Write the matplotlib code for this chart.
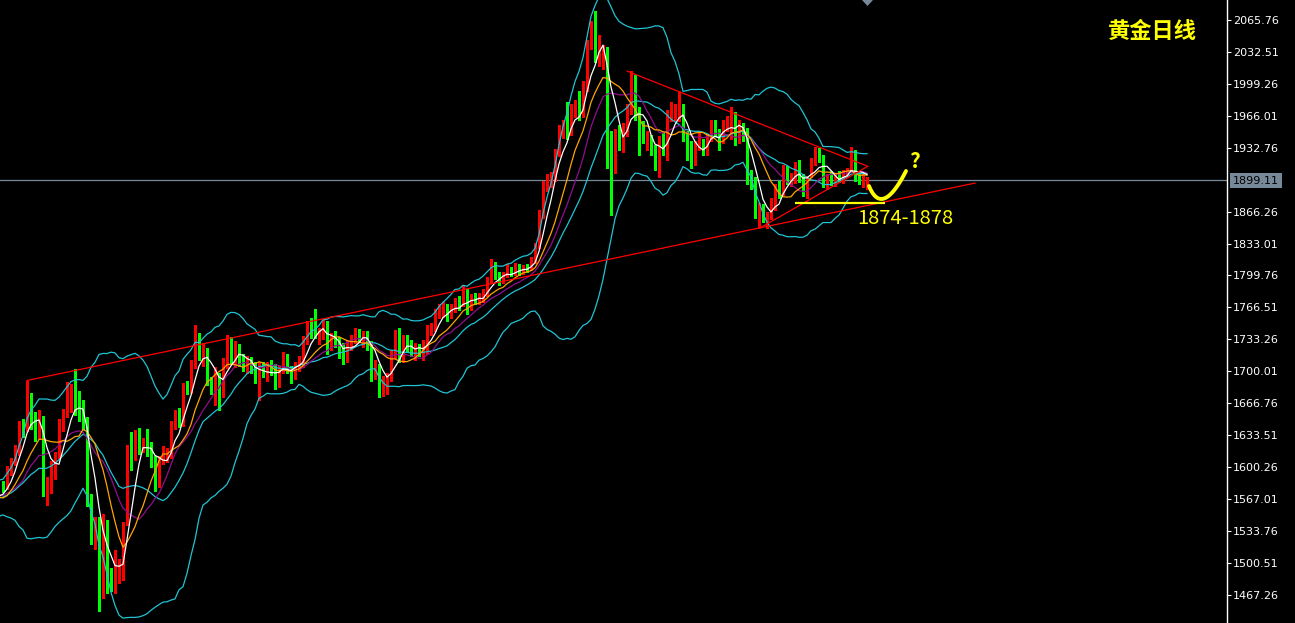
import matplotlib
matplotlib.use("Agg")
import matplotlib.pyplot as plt
from matplotlib.patches import Polygon
import numpy as np
import pandas as pd

# ---------------- data ----------------
opens = [1583,1580,1598,1607,1617,1644,1641,1673,1650,1636,
 1650,1582,1585,1593,1614,1642,1658,1663,1673,1664,
 1655,1650,1565,1533,1543,1504,1530,1490,1478,1488,
 1498,1542,1618,1612,1627,1622,1627,1620,1609,1591,
 1610,1613,1616,1646,1655,1645,1684,1682,1708,1734,
 1712,1720,1690,1676,1692,1677,1708,1729,1710,1722,
 1712,1705,1710,1705,1693,1703,1696,1707,1703,1689,
 1701,1714,1703,1696,1705,1708,1733,1752,1748,1736,
 1738,1748,1729,1736,1732,1720,1713,1726,1734,1739,
 1729,1739,1729,1700,1705,1680,1684,1693,1717,1737,
 1714,1733,1728,1719,1724,1720,1722,1743,1745,1760,
 1763,1767,1760,1765,1774,1771,1783,1768,1777,1774,
 1776,1781,1795,1810,1800,1795,1801,1805,1803,1809,
 1805,1809,1808,1816,1830,1864,1892,1899,1902,1928,
 1949,1958,1950,1972,1976,1968,1996,2043,2059,2027,
 2026,2034,1946,1941,1946,1942,1948,1973,2001,1968,
 1950,1937,1941,1930,1920,1941,1927,1967,1970,1968,
 1974,1944,1934,1920,1934,1937,1929,1946,1958,1949,
 1944,1953,1946,1967,1944,1953,1950,1903,1899,1862,
 1870,1859,1863,1872,1890,1886,1911,1899,1900,1914,
 1901,1887,1905,1920,1926,1922,1895,1902,1898,1903,
 1900,1906,1910,1925,1900,1898,1896]

highs = [1586,1602,1610,1623,1648,1650,1690,1678,1658,1660,
 1654,1590,1607,1616,1650,1661,1689,1687,1702,1680,
 1670,1653,1572,1548,1548,1552,1545,1495,1514,1505,
 1543,1623,1637,1639,1641,1631,1640,1626,1612,1612,
 1622,1620,1648,1660,1662,1688,1690,1712,1748,1740,
 1730,1724,1694,1705,1698,1714,1738,1736,1732,1728,
 1718,1716,1715,1710,1710,1710,1710,1712,1708,1706,
 1720,1718,1706,1710,1716,1737,1752,1756,1765,1745,
 1754,1752,1740,1742,1736,1730,1732,1738,1745,1744,
 1742,1742,1732,1712,1708,1695,1698,1722,1743,1745,
 1738,1738,1733,1730,1728,1733,1748,1750,1765,1770,
 1772,1770,1770,1776,1778,1790,1786,1780,1782,1782,
 1786,1798,1817,1814,1803,1803,1812,1809,1813,1812,
 1811,1812,1819,1834,1868,1898,1905,1907,1931,1956,
 1962,1980,1978,1982,1992,2002,2045,2064,2075,2050,
 2040,2037,1950,1952,1956,1958,1978,2012,2008,1975,
 1960,1950,1946,1935,1945,1948,1972,1980,1978,1992,
 1978,1950,1940,1940,1950,1942,1947,1962,1962,1952,
 1962,1966,1975,1970,1962,1958,1953,1910,1902,1875,
 1874,1866,1880,1895,1898,1915,1914,1906,1918,1920,
 1905,1903,1922,1933,1932,1925,1905,1908,1906,1908,
 1910,1912,1933,1930,1906,1905,1902]

lows = [1574,1578,1592,1603,1613,1632,1638,1640,1628,1630,
 1570,1561,1573,1588,1610,1638,1652,1658,1655,1648,
 1640,1560,1520,1515,1451,1464,1469,1472,1469,1480,
 1483,1540,1597,1608,1614,1616,1612,1600,1576,1580,
 1604,1606,1610,1640,1642,1643,1676,1678,1704,1712,
 1706,1686,1676,1665,1660,1673,1704,1708,1705,1706,
 1700,1698,1698,1688,1670,1694,1690,1696,1682,1684,
 1698,1698,1688,1692,1700,1705,1728,1735,1735,1728,
 1734,1718,1722,1725,1714,1708,1710,1722,1730,1732,
 1725,1722,1690,1692,1673,1674,1676,1690,1714,1710,
 1710,1720,1716,1712,1716,1712,1718,1738,1742,1755,
 1757,1752,1756,1762,1764,1768,1760,1764,1770,1770,
 1772,1778,1792,1796,1790,1792,1798,1799,1800,1800,
 1801,1803,1805,1813,1828,1860,1888,1892,1898,1924,
 1943,1942,1946,1965,1962,1965,1992,2035,2022,2018,
 2015,1912,1863,1906,1930,1928,1945,1968,1962,1925,
 1938,1930,1925,1910,1902,1925,1920,1960,1962,1960,
 1940,1920,1912,1915,1930,1925,1925,1940,1945,1930,
 1938,1950,1942,1935,1938,1940,1895,1890,1860,1850,
 1855,1849,1858,1868,1880,1884,1895,1893,1896,1897,
 1882,1880,1902,1915,1918,1892,1890,1894,1893,1897,
 1896,1902,1908,1898,1895,1892,1890]

closes = [1579,1600,1606,1618,1642,1640,1672,1651,1636,1648,
 1582,1586,1594,1613,1642,1657,1663,1673,1663,1654,
 1650,1565,1533,1543,1502,1530,1490,1478,1490,1498,
 1541,1618,1611,1627,1620,1627,1618,1608,1590,1609,
 1613,1616,1646,1655,1646,1684,1682,1708,1734,1719,
 1722,1690,1681,1700,1677,1710,1729,1713,1727,1710,
 1705,1712,1703,1693,1698,1698,1705,1700,1691,1701,
 1715,1703,1694,1706,1712,1733,1748,1744,1739,1741,
 1750,1722,1736,1729,1718,1713,1728,1734,1738,1736,
 1739,1727,1700,1706,1680,1691,1693,1719,1739,1714,
 1733,1726,1719,1724,1721,1728,1743,1745,1760,1767,
 1765,1759,1765,1771,1769,1784,1767,1777,1774,1778,
 1783,1795,1805,1800,1795,1800,1805,1803,1809,1805,
 1807,1807,1816,1830,1864,1895,1901,1902,1928,1953,
 1958,1948,1974,1975,1967,1996,2041,2059,2027,2036,
 2034,1941,1941,1946,1942,1949,1972,2001,1967,1950,
 1944,1941,1929,1918,1941,1929,1967,1974,1973,1975,
 1944,1925,1918,1934,1946,1929,1942,1958,1948,1937,
 1958,1958,1967,1944,1953,1946,1903,1899,1864,1870,
 1859,1863,1873,1890,1885,1911,1899,1903,1914,1900,
 1889,1901,1920,1928,1922,1895,1902,1898,1903,1900,
 1906,1910,1925,1900,1898,1902,1899.11]

# closes before the first visible bar (only feed the indicators)
prior_closes = [1552,1566,1574,1556,1553,1562,1548,1545,1555,1552,
 1557,1560,1558,1558,1563,1571,1582,1567,1577,1576,
 1589,1577,1553,1556,1566,1570,1573,1568,1565,1576]

price_ticks = [2065.76, 2032.51, 1999.26, 1966.01, 1932.76, 1866.26, 1833.01,
               1799.76, 1766.51, 1733.26, 1700.01, 1666.76, 1633.51, 1600.26,
               1567.01, 1533.76, 1500.51, 1467.26]
last_price = 1899.11
title_text = "黄金日线"
zone_text = "1874-1878"
zone_price = 1875.2

# trend lines (bar index, price)
rising_line = [(6, 1690.5), (243, 1895.9)]
falling_line = [(156, 2012.4), (216.2, 1913.3)]
triangle_low = [(189, 1848.6), (216.2, 1913.3)]

# ---------------- figure ----------------
W, H = 1295, 623
AX_RIGHT = 1227
fig = plt.figure(figsize=(W / 100, H / 100), dpi=100, facecolor="black")
ax = fig.add_axes([0, 0, AX_RIGHT / W, 1])
ax.set_facecolor("black")
XMIN, XMAX = -0.75, (AX_RIGHT - 3) / 4
YMIN, YMAX = 1438.2, 2086.36
ax.set_xlim(XMIN, XMAX)
ax.set_ylim(YMIN, YMAX)


def px2data(px, py):
    return (px - 3) / 4.0, YMAX - py * (YMAX - YMIN) / H


o = np.array(opens, float)
h = np.array(highs, float)
l = np.array(lows, float)
c = np.array(closes, float)
n = len(c)
x = np.arange(n)

UP = "#ff0000"
DN = "#00ff00"
cols = np.where(c >= o, UP, DN)

# indicators
allc = pd.Series(list(prior_closes) + list(closes), dtype=float)
xi = np.arange(-len(prior_closes), n)
ma5 = allc.rolling(5).mean()
ma10 = allc.rolling(10).mean()
ma14 = allc.rolling(14).mean()
mid = allc.rolling(20).mean()
sd = allc.rolling(20).std(ddof=0)
up = mid + 2 * sd
dn = mid - 2 * sd

ax.axhline(last_price, color="#778899", lw=0.9, zorder=1)

# candles
ax.vlines(x, l, h, colors=cols, lw=1.0, zorder=2, antialiased=False)
bottoms = np.minimum(o, c)
heights = np.maximum(np.abs(c - o), 1.0)
ax.bar(x, heights, bottom=bottoms, width=0.7, color=cols, linewidth=0,
       zorder=2.1, antialiased=False)

BB = "#20c4d4"
for ser in (up, mid, dn):
    ax.plot(xi, ser, color=BB, lw=0.9, zorder=3)
ax.plot(xi, ma14, color="#8f0f8f", lw=0.9, zorder=3.1)
ax.plot(xi, ma10, color="#ffa500", lw=0.9, zorder=3.2)
ax.plot(xi, ma5, color="white", lw=0.9, zorder=3.3)

for seg in (rising_line, falling_line, triangle_low):
    ax.plot([seg[0][0], seg[1][0]], [seg[0][1], seg[1][1]], color="#ff0000",
            lw=0.9, zorder=4)

# yellow support line
x0, _ = px2data(795, 0)
x1, _ = px2data(885, 0)
ax.plot([x0, x1], [zone_price, zone_price], color="#ffff00", lw=1.6, zorder=5,
        solid_capstyle="butt")

# yellow hand-drawn tick
t = np.linspace(0, 1, 40)
P0, P1, P2 = np.array([869, 186]), np.array([882, 218]), np.array([906, 171])
bez = ((1 - t) ** 2)[:, None] * P0 + (2 * t * (1 - t))[:, None] * P1 + (t ** 2)[:, None] * P2
bx, by = px2data(bez[:, 0], bez[:, 1])
ax.plot(bx, by, color="#ffff00", lw=2.8, zorder=5, solid_capstyle="round")
qx, qy = px2data(914, 162)
ax.text(qx, qy, "?", color="#ffff00", fontsize=15, fontweight="bold",
        ha="center", va="center",
        family=["Noto Sans CJK SC", "DejaVu Sans"], zorder=6)

zx, zy = px2data(857, 219)
ax.text(zx, zy, zone_text, color="#ffff00", fontsize=14.5, ha="left", va="center",
        family=["Noto Sans CJK SC", "DejaVu Sans"], zorder=6)

# shift marker (grey triangle at top)
tx0, ty0 = px2data(862, 0)
tx1, _ = px2data(873, 0)
tx2, ty2 = px2data(867.5, 6)
ax.add_patch(Polygon([(tx0, ty0), (tx1, ty0), (tx2, ty2)], closed=True,
                     facecolor="#778899", edgecolor="none", zorder=6, clip_on=False))

# axes styling
for s in ("left", "top", "bottom"):
    ax.spines[s].set_visible(False)
ax.spines["right"].set_color("white")
ax.spines["right"].set_linewidth(1.0)
ax.set_xticks([])
ax.yaxis.tick_right()
ax.set_yticks(price_ticks)
ax.set_yticklabels([f"{v:.2f}" for v in price_ticks])
ax.tick_params(axis="y", colors="white", length=3, width=0.8, pad=1.5,
               labelsize=8, direction="out")

# current price label
fig.text(1233 / W, 1 - 180.5 / H, f"{last_price:.2f}", color="black", fontsize=8,
         ha="left", va="center",
         bbox=dict(facecolor="#778899", edgecolor="none", boxstyle="square,pad=0.25"))

# title
fig.text(1108 / W, 1 - 31 / H, title_text, color="#ffff00", fontsize=16,
         fontweight="bold", ha="left", va="center",
         family=["Noto Sans CJK SC", "DejaVu Sans"])

fig.savefig("out.png", dpi=100, facecolor="black")
